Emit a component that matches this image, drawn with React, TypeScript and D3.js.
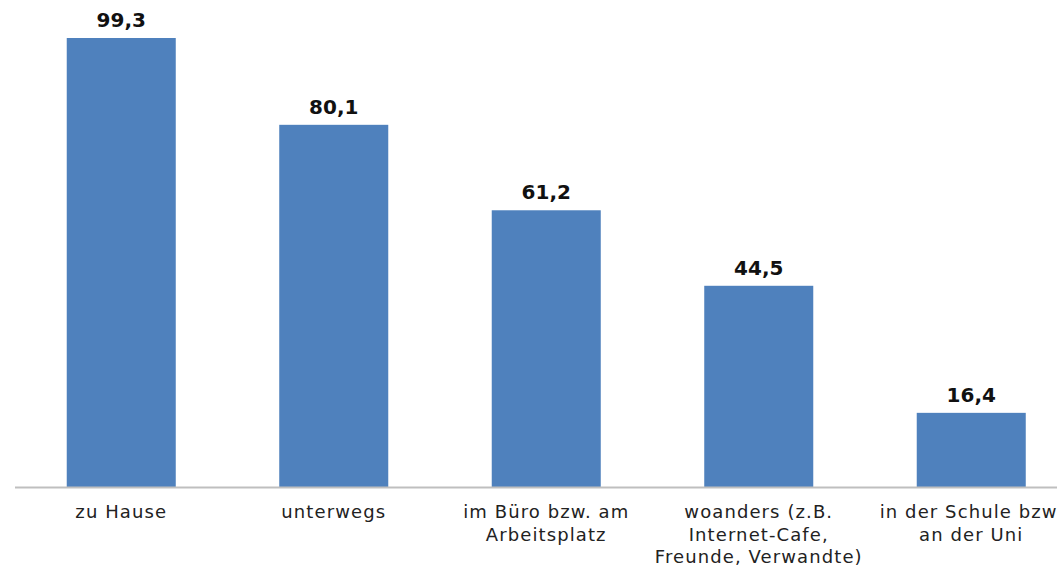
import React from "react";
import * as d3 from "d3";

const categories: string[][] = [
  ["zu Hause"],
  ["unterwegs"],
  ["im Büro bzw. am", "Arbeitsplatz"],
  ["woanders (z.B.", "Internet-Cafe,", "Freunde, Verwandte)"],
  ["in der Schule bzw.", "an der Uni"],
];
const values: number[] = [99.3, 80.1, 61.2, 44.5, 16.4];
const valueLabels: string[] = ["99,3", "80,1", "61,2", "44,5", "16,4"];

const W = 1057;
const H = 567;
const baseY = 487;

export default function App() {
  const ids = categories.map((_, i) => String(i));
  const x = d3
    .scaleBand<string>()
    .domain(ids)
    .range([15, 15 + 5 * 212.5])
    .paddingInner(0.487)
    .paddingOuter(0.2435);
  const y = d3.scaleLinear().domain([0, 99.3]).range([baseY, 38]);
  const font = "'DejaVu Sans', Verdana, sans-serif";
  return (
    <svg
      width={W}
      height={H}
      style={{ position: "absolute", left: 0, top: 0, background: "#fff" }}
    >
      {values.map((v, i) => {
        const bx = x(String(i))!;
        return (
          <g key={i}>
            <rect
              x={bx}
              y={y(v)}
              width={x.bandwidth()}
              height={baseY - y(v)}
              fill="#4f81bd"
            />
            <text
              x={bx + x.bandwidth() / 2}
              y={y(v) - 11}
              textAnchor="middle"
              fontFamily={font}
              fontWeight="bold"
              fontSize={20}
              fill="#111"
            >
              {valueLabels[i]}
            </text>
          </g>
        );
      })}
      <line x1={15} x2={W} y1={baseY + 0.5} y2={baseY + 0.5} stroke="#bfbfbf" strokeWidth={2} />
      {categories.map((lines, i) => {
        const cx = x(String(i))! + x.bandwidth() / 2;
        return (
          <text
            key={i}
            textAnchor="middle"
            fontFamily={font}
            fontSize={18}
            letterSpacing={1.1}
            fill="#222"
          >
            {lines.map((l, j) => (
              <tspan key={j} x={cx} y={518 + j * 22.5}>
                {l}
              </tspan>
            ))}
          </text>
        );
      })}
    </svg>
  );
}
